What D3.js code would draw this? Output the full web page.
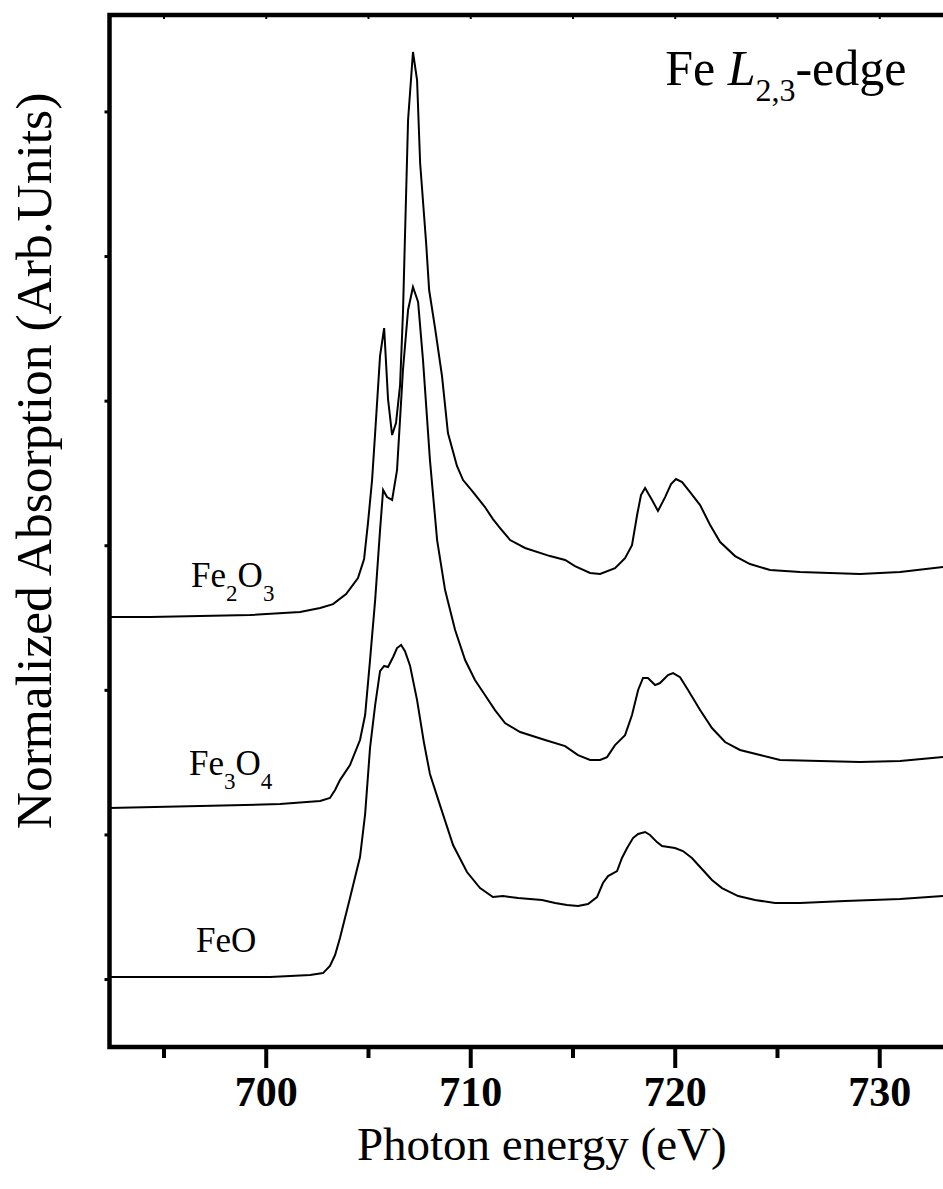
<!DOCTYPE html>
<html>
<head>
<meta charset="utf-8">
<script src="https://cdn.jsdelivr.net/npm/d3@7"></script>
<style>
  body { margin: 0; background: #fff; }
  text { font-family: "Liberation Serif", "Times New Roman", serif; fill: #000; }
</style>
</head>
<body>
<div id="chart"></div>
<script>
// Spectra: [photon energy (eV), normalized absorption + offset]
const fe2o3 = [
  [692.34,2.504],[694.34,2.504],[696.79,2.510],[699.23,2.517],[701.68,2.538],[702.66,2.566],
  [703.29,2.593],[703.93,2.663],[704.51,2.773],[704.81,2.905],[705.00,3.154],[705.20,3.451],
  [705.35,3.776],[705.59,4.309],[705.79,4.502],[705.98,4.011],[706.18,3.762],[706.37,3.845],
  [706.57,4.108],[706.71,4.606],[706.96,5.941],[707.20,6.411],[707.40,6.217],[707.55,5.643],
  [707.84,5.097],[707.99,4.765],[708.28,4.502],[708.62,4.170],[708.91,3.776],[709.35,3.548],
  [709.65,3.451],[710.14,3.368],[710.72,3.264],[711.11,3.181],[711.46,3.119],[711.95,3.036],
  [712.68,2.981],[713.90,2.925],[714.64,2.898],[715.12,2.856],[715.86,2.808],[716.35,2.801],
  [717.08,2.842],[717.57,2.911],[717.91,3.001],[718.16,3.209],[718.35,3.347],[718.55,3.396],
  [718.89,3.313],[719.18,3.237],[719.53,3.333],[719.82,3.423],[720.06,3.458],[720.36,3.437],
  [720.75,3.368],[721.24,3.278],[721.73,3.140],[722.22,3.022],[722.95,2.925],[723.68,2.870],
  [724.66,2.829],[726.13,2.815],[727.59,2.808],[729.06,2.801],[731.02,2.815],[733.12,2.849]
];

const fe3o4 = [
  [692.34,1.183],[696.79,1.196],[700.70,1.210],[702.66,1.231],[703.14,1.252],[703.39,1.307],
  [703.63,1.376],[704.12,1.480],[704.61,1.653],[704.86,1.826],[705.10,2.206],[705.35,2.621],
  [705.59,3.105],[705.74,3.382],[705.93,3.333],[706.18,3.313],[706.42,3.520],[706.71,4.212],
  [706.96,4.627],[707.20,4.786],[707.45,4.682],[707.69,4.281],[708.03,3.589],[708.38,3.036],
  [708.77,2.690],[709.26,2.414],[709.75,2.206],[710.23,2.068],[710.72,1.964],[711.21,1.860],
  [711.70,1.770],[712.44,1.708],[713.66,1.653],[714.64,1.611],[715.27,1.549],[715.86,1.515],
  [716.35,1.515],[716.69,1.535],[717.08,1.618],[717.57,1.687],[717.91,1.826],[718.21,1.999],
  [718.45,2.082],[718.69,2.082],[719.04,2.033],[719.28,2.047],[719.67,2.102],[719.92,2.116],
  [720.26,2.088],[720.65,1.999],[721.24,1.860],[721.82,1.736],[722.46,1.639],[723.19,1.584],
  [724.17,1.549],[725.15,1.515],[727.11,1.508],[729.06,1.501],[731.02,1.508],[733.12,1.535]
];

const feo = [
  [692.34,0.014],[696.79,0.014],[700.21,0.014],[702.17,0.028],[702.80,0.041],[703.14,0.090],
  [703.39,0.166],[703.63,0.284],[704.12,0.560],[704.61,0.844],[704.86,1.141],[705.10,1.598],
  [705.35,1.895],[705.59,2.130],[705.79,2.165],[705.98,2.158],[706.23,2.227],[706.42,2.289],
  [706.62,2.310],[706.81,2.268],[707.06,2.165],[707.40,1.929],[707.74,1.632],[708.03,1.418],
  [708.52,1.203],[709.16,0.927],[709.84,0.740],[710.48,0.629],[711.11,0.567],[711.60,0.574],
  [712.34,0.560],[713.51,0.546],[714.15,0.526],[714.73,0.512],[715.27,0.505],[715.76,0.519],
  [716.20,0.567],[716.49,0.664],[716.74,0.712],[717.18,0.747],[717.42,0.837],[717.67,0.906],
  [717.96,0.975],[718.21,1.003],[718.55,1.017],[718.79,0.996],[719.13,0.947],[719.38,0.920],
  [720.01,0.906],[720.40,0.885],[720.84,0.837],[721.33,0.761],[721.82,0.685],[722.31,0.629],
  [723.10,0.574],[723.93,0.546],[724.90,0.526],[726.13,0.526],[728.33,0.539],[731.02,0.553],
  [733.12,0.574]
];

const majorTicks = [700, 710, 720, 730];
const minorTicks = [695, 705, 715, 725, 735];
const yTicks = [0, 1, 2, 3, 4, 5, 6];

// sample labels, placed in data coordinates: [energy, value, formula parts]
const sampleLabels = [
  { e: 696.35, v: 2.711, parts: [["Fe", 0], ["2", 1], ["O", 0], ["3", 1]] },
  { e: 696.25, v: 1.411, parts: [["Fe", 0], ["3", 1], ["O", 0], ["4", 1]] },
  { e: 696.59, v: 0.187, parts: [["FeO", 0]] }
];

const width = 943;
const height = 1189;
const plotLeft = 109.5, plotTop = 15, plotBottom = 1047;

const svg = d3.select('#chart')
  .append('svg')
  .attr('width', width)
  .attr('height', height);

const x = d3.scaleLinear()
  .domain([692.36, 735])
  .range([plotLeft, plotLeft + (735 - 692.36) * 20.45]);

const y = d3.scaleLinear()
  .domain([-0.47, 6.667])
  .range([plotBottom, plotTop]);

// clip to the plot box
svg.append('clipPath')
  .attr('id', 'plot-clip')
  .append('rect')
  .attr('x', plotLeft)
  .attr('y', plotTop)
  .attr('width', x.range()[1] - plotLeft)
  .attr('height', plotBottom - plotTop);

// spectra
const line = d3.line()
  .x(d => x(d[0]))
  .y(d => y(d[1]));

svg.append('g')
  .attr('clip-path', 'url(#plot-clip)')
  .selectAll('path')
  .data([fe2o3, fe3o4, feo])
  .enter()
  .append('path')
  .attr('d', line)
  .attr('fill', 'none')
  .attr('stroke', '#000')
  .attr('stroke-width', 2);

// bottom axis, major ticks with labels
const xAxis = svg.append('g')
  .attr('transform', `translate(0, ${plotBottom})`)
  .call(d3.axisBottom(x).tickValues(majorTicks).tickSize(21).tickPadding(8).tickFormat(d3.format('d')));
xAxis.select('.domain').remove();
xAxis.selectAll('line').attr('stroke', '#000').attr('stroke-width', 4);
xAxis.selectAll('text')
  .attr('font-size', 42)
  .attr('font-weight', 'bold')
  .attr('font-family', '"Liberation Serif", "Times New Roman", serif');

// bottom axis, minor ticks
const xMinor = svg.append('g')
  .attr('transform', `translate(0, ${plotBottom})`)
  .call(d3.axisBottom(x).tickValues(minorTicks).tickSize(11).tickFormat(''));
xMinor.select('.domain').remove();
xMinor.selectAll('line').attr('stroke', '#000').attr('stroke-width', 4);

// tiny ticks along the top edge
const xTop = svg.append('g')
  .attr('transform', `translate(0, ${plotTop})`)
  .call(d3.axisBottom(x).tickValues(majorTicks.concat(minorTicks)).tickSize(4).tickFormat(''));
xTop.select('.domain').remove();
xTop.selectAll('line').attr('stroke', '#000').attr('stroke-width', 2);

// tiny ticks on the left axis (no labels)
const yAxis = svg.append('g')
  .attr('transform', `translate(${plotLeft}, 0)`)
  .call(d3.axisLeft(y).tickValues(yTicks).tickSize(5).tickFormat(''));
yAxis.select('.domain').remove();
yAxis.selectAll('line').attr('stroke', '#000').attr('stroke-width', 3);

// frame
svg.append('rect')
  .attr('x', plotLeft)
  .attr('y', plotTop)
  .attr('width', x.range()[1] - plotLeft)
  .attr('height', plotBottom - plotTop)
  .attr('fill', 'none')
  .attr('stroke', '#000')
  .attr('stroke-width', 4.5);

// axis titles
svg.append('text')
  .attr('x', x(713.5))
  .attr('y', 1160)
  .attr('text-anchor', 'middle')
  .attr('font-size', 47)
  .text('Photon energy (eV)');

svg.append('text')
  .attr('transform', `translate(51, ${(plotTop + plotBottom) / 2 - 70}) rotate(-90)`)
  .attr('text-anchor', 'middle')
  .attr('font-size', 51.5)
  .text('Normalized Absorption (Arb.Units)');

// panel title: Fe L2,3-edge
const title = svg.append('text')
  .attr('x', x(719.53))
  .attr('y', y(6.183))
  .attr('font-size', 50);
title.append('tspan').text('Fe ');
title.append('tspan').attr('font-style', 'italic').text('L');
title.append('tspan').attr('font-size', 32).attr('dy', 16).text('2,3');
title.append('tspan').attr('dy', -16).text('-edge');

// sample labels with subscripts
sampleLabels.forEach(lab => {
  const t = svg.append('text')
    .attr('x', x(lab.e))
    .attr('y', y(lab.v))
    .attr('font-size', 35);
  let shifted = false;
  lab.parts.forEach(([str, sub]) => {
    const span = t.append('tspan').text(str);
    if (sub && !shifted) { span.attr('font-size', 23).attr('dy', 14); shifted = true; }
    else if (!sub && shifted) { span.attr('dy', -14); shifted = false; }
    else if (sub) span.attr('font-size', 23);
  });
});
</script>
</body>
</html>
